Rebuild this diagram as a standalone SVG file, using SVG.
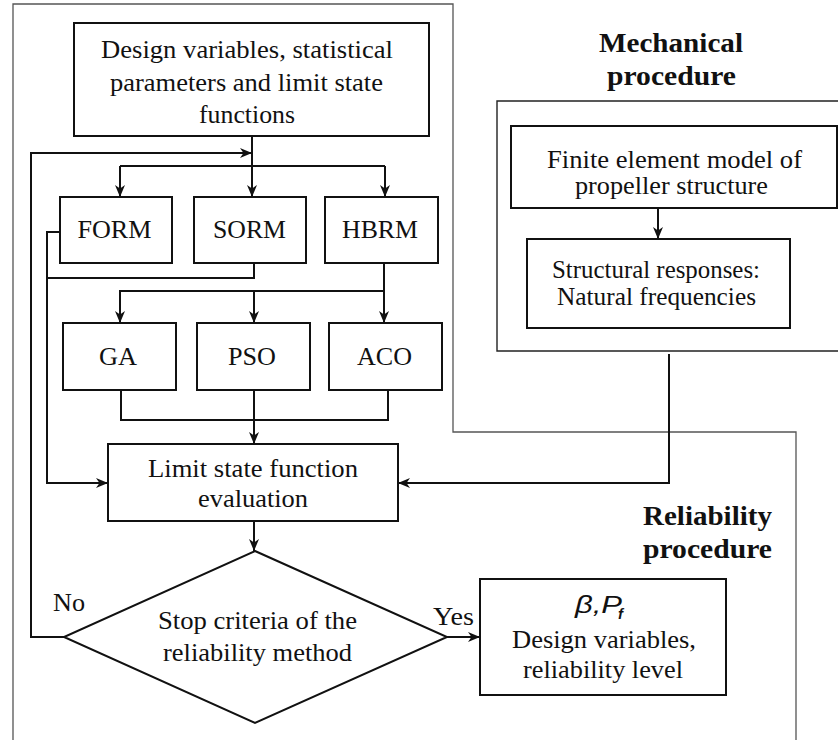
<svg xmlns="http://www.w3.org/2000/svg" width="838" height="740" viewBox="0 0 838 740">
<style>
.box{fill:#fff;stroke:#111;stroke-width:2}
.frame{fill:none;stroke:#555;stroke-width:1.3}
.mframe{fill:none;stroke:#222;stroke-width:1.4}
.con{fill:none;stroke:#111;stroke-width:2}
.t{font-family:"Liberation Serif","Times New Roman",serif;font-size:25px;fill:#111;text-anchor:middle}
.b{font-family:"Liberation Serif","Times New Roman",serif;font-size:28px;font-weight:bold;fill:#111;text-anchor:middle}
.m{font-family:"Liberation Sans",Arial,sans-serif;font-style:italic;fill:#111}
</style>
<defs>
<marker id="ah" markerWidth="12" markerHeight="10" refX="12" refY="5" orient="auto" markerUnits="userSpaceOnUse">
<path d="M0,0 L12,5 L0,10 L3.5,5 z" fill="#111"/>
</marker>
</defs>

<g id="frames">
<polyline class="frame" points="13,740 13,4 453,4 453,432 796,432 796,740"/>
<polyline class="mframe" points="840,101 497,101 497,351 840,351"/>
</g>

<g id="title-mech">
<text class="b" x="671" y="52" textLength="144" lengthAdjust="spacingAndGlyphs">Mechanical</text>
<text class="b" x="671.5" y="85" textLength="129" lengthAdjust="spacingAndGlyphs">procedure</text>
</g>
<g id="title-rel">
<text class="b" x="707.5" y="525" textLength="129" lengthAdjust="spacingAndGlyphs">Reliability</text>
<text class="b" x="707.5" y="558" textLength="129" lengthAdjust="spacingAndGlyphs">procedure</text>
</g>

<g id="connectors">
<path class="con" d="M252,136 V197" marker-end="url(#ah)"/>
<path class="con" d="M64,637 H31 V153 H252" marker-end="url(#ah)"/>
<path class="con" d="M120,166 H385"/>
<path class="con" d="M120,166 V197" marker-end="url(#ah)"/>
<path class="con" d="M385,166 V197" marker-end="url(#ah)"/>
<path class="con" d="M60,232 H47 V483 H108" marker-end="url(#ah)"/>
<path class="con" d="M254,263 V278 H47"/>
<path class="con" d="M384,263 V291 H119"/>
<path class="con" d="M120,291 V323" marker-end="url(#ah)"/>
<path class="con" d="M254,291 V323" marker-end="url(#ah)"/>
<path class="con" d="M384,291 V323" marker-end="url(#ah)"/>
<path class="con" d="M121,390 V420 H388 V390"/>
<path class="con" d="M254,390 V444" marker-end="url(#ah)"/>
<path class="con" d="M669,354 V483 H398" marker-end="url(#ah)"/>
<path class="con" d="M254,521 V551" marker-end="url(#ah)"/>
<path class="con" d="M447,637 H480" marker-end="url(#ah)"/>
<path class="con" d="M658,208 V239" marker-end="url(#ah)"/>
</g>

<g id="n-input">
<rect class="box" x="74" y="23" width="355" height="113"/>
<text class="t" x="247" y="58" textLength="292" lengthAdjust="spacingAndGlyphs">Design variables, statistical</text>
<text class="t" x="246.5" y="91" textLength="273" lengthAdjust="spacingAndGlyphs">parameters and limit state</text>
<text class="t" x="247" y="123" textLength="96" lengthAdjust="spacingAndGlyphs">functions</text>
</g>
<g id="n-form">
<rect class="box" x="60" y="197" width="112" height="66"/>
<text class="t" x="114.5" y="238" textLength="74" lengthAdjust="spacingAndGlyphs">FORM</text>
</g>
<g id="n-sorm">
<rect class="box" x="194" y="197" width="112" height="66"/>
<text class="t" x="249.5" y="238" textLength="73" lengthAdjust="spacingAndGlyphs">SORM</text>
</g>
<g id="n-hbrm">
<rect class="box" x="325" y="197" width="113" height="66"/>
<text class="t" x="380" y="238" textLength="76" lengthAdjust="spacingAndGlyphs">HBRM</text>
</g>
<g id="n-ga">
<rect class="box" x="63" y="323" width="113" height="67"/>
<text class="t" x="118" y="365" textLength="38" lengthAdjust="spacingAndGlyphs">GA</text>
</g>
<g id="n-pso">
<rect class="box" x="197" y="323" width="113" height="67"/>
<text class="t" x="252" y="365" textLength="48" lengthAdjust="spacingAndGlyphs">PSO</text>
</g>
<g id="n-aco">
<rect class="box" x="329" y="323" width="113" height="67"/>
<text class="t" x="384.5" y="365" textLength="55" lengthAdjust="spacingAndGlyphs">ACO</text>
</g>
<g id="n-limit">
<rect class="box" x="108" y="444" width="290" height="77"/>
<text class="t" x="253" y="477" textLength="210" lengthAdjust="spacingAndGlyphs">Limit state function</text>
<text class="t" x="253" y="507" textLength="110" lengthAdjust="spacingAndGlyphs">evaluation</text>
</g>
<g id="n-stop">
<polygon class="box" points="255,551 447,637 255,723 64,637"/>
<text class="t" x="257.5" y="629" textLength="199" lengthAdjust="spacingAndGlyphs">Stop criteria of the</text>
<text class="t" x="257.5" y="661" textLength="189" lengthAdjust="spacingAndGlyphs">reliability method</text>
</g>
<g id="labels">
<text class="t" x="69" y="611" textLength="32" lengthAdjust="spacingAndGlyphs">No</text>
<text class="t" x="453.5" y="625" textLength="41" lengthAdjust="spacingAndGlyphs">Yes</text>
</g>
<g id="n-result">
<rect class="box" x="480" y="579" width="246" height="116"/>
<text class="m" x="575" y="613" font-size="24" textLength="47" lengthAdjust="spacingAndGlyphs">β,P</text>
<text class="m" x="618" y="619" font-size="15" font-weight="bold">f</text>
<text class="t" x="604" y="648" textLength="184" lengthAdjust="spacingAndGlyphs">Design variables,</text>
<text class="t" x="603" y="678" textLength="160" lengthAdjust="spacingAndGlyphs">reliability level</text>
</g>
<g id="n-fem">
<rect class="box" x="511" y="126" width="326" height="82"/>
<text class="t" x="674.5" y="168" textLength="255" lengthAdjust="spacingAndGlyphs">Finite element model of</text>
<text class="t" x="671.5" y="194" textLength="193" lengthAdjust="spacingAndGlyphs">propeller structure</text>
</g>
<g id="n-resp">
<rect class="box" x="527" y="239" width="263" height="89"/>
<text class="t" x="656" y="278" textLength="208" lengthAdjust="spacingAndGlyphs">Structural responses:</text>
<text class="t" x="656.5" y="305" textLength="199" lengthAdjust="spacingAndGlyphs">Natural frequencies</text>
</g>
</svg>
